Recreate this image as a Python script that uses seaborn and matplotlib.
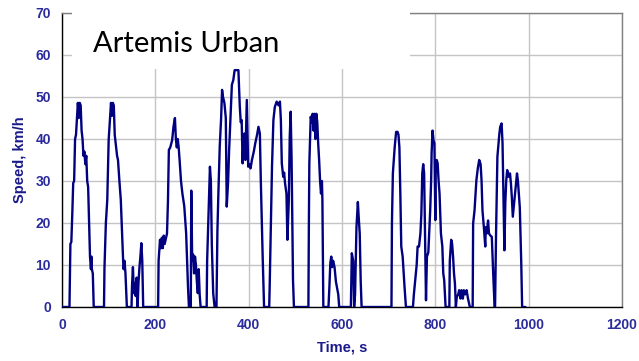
import matplotlib
matplotlib.use("Agg")
import matplotlib.pyplot as plt
import seaborn as sns
import pandas as pd
from matplotlib.patches import Rectangle

# Artemis Urban cycle (time in s, speed in km/h)
time_s = [0, 16, 18, 20, 22, 24, 26, 28, 30, 32, 34, 36, 38, 40, 42, 44, 46, 48, 50, 52, 54, 56, 58, 60, 62, 63, 64, 66, 68,
          90, 91, 94, 97, 100, 103, 105, 107, 109, 111, 113, 116, 118, 120, 123, 126, 129, 131, 132, 134, 136, 139,
          149, 150, 152, 154, 156, 158, 160, 162, 164, 166, 168, 170, 172, 174,
          206, 207, 210, 212, 214, 216, 218, 220, 222, 225, 227, 229, 232, 236, 239, 242, 244, 246, 248, 250, 252, 255,
          258, 262, 266, 268, 270, 272, 276, 277, 279, 281, 283, 285, 287, 289, 291, 293, 295, 297, 310, 311, 314, 317,
          319, 321, 324, 327,
          331, 333, 335, 338, 341, 343, 345, 348, 351, 353, 356, 358, 361, 364, 367, 370, 378, 381, 383, 385, 387, 389,
          391, 393, 396, 399, 402, 404, 407, 411, 414, 418, 421, 424, 426, 430, 433,
          444, 445, 447, 450, 453, 456, 460, 464, 467, 469, 471, 474, 476, 478, 481, 483, 486, 488, 490, 492, 495, 497,
          528, 529, 530, 533, 535, 537, 539, 541, 543, 545, 547, 549, 551, 553, 555, 557, 558, 560,
          571, 573, 575, 577, 579, 581, 584, 587, 589, 592, 594,
          619, 621, 624, 626, 628, 631, 634, 636, 638, 640, 642,
          706, 707, 709, 713, 716, 719, 721, 723, 725, 727, 730, 734, 737,
          752, 754, 757, 760, 762, 765, 768, 770, 772, 774, 776, 777, 778, 780, 782, 785, 787, 789, 791, 792, 794, 796,
          798, 800, 801, 803, 805, 807, 809, 812, 815, 817, 819, 822,
          830, 831, 834, 836, 838, 840, 842, 844, 846, 849, 851, 854, 856, 859, 861, 864, 867, 870, 874,
          880, 881, 884, 888, 891, 894, 897, 899, 901, 904, 907, 908, 910, 913, 915, 918, 921, 924, 927,
          928, 930, 933, 937, 939, 942, 944, 946, 948, 950, 952, 954, 957, 960, 962, 964, 966, 969, 972, 975, 977, 979,
          981, 984, 986, 993]
speed_kmh = [0, 0, 15, 15.5, 22, 29.5, 30, 40, 41, 45, 48.6, 45, 48.6, 48, 42, 40, 36, 37, 34, 36, 30, 28.6, 20, 12, 9, 12, 9, 8, 0,
             0, 9.3, 20, 25.5, 39.8, 45, 48.6, 45.5, 48.6, 48, 41, 38, 36, 35, 30, 25.5, 16.5, 11, 9, 11, 8, 0,
             0, 5, 9.5, 3.3, 5.7, 2.6, 7, 0, 6, 9.5, 12, 15.2, 11, 0,
             0, 11, 16, 14, 16.5, 14, 17, 15, 16, 17.5, 25, 37.4, 38, 39.7, 43, 45, 40, 38, 40, 38, 35, 30,
             27, 24, 17.6, 11, 4.8, 0, 0, 27.7, 11, 12.5, 8, 12, 10, 6, 3.3, 9, 3, 0, 0, 11, 22, 33.4,
             30, 15, 3.3, 0,
             0, 18, 26.6, 38.2, 45, 51.7, 50, 48.6, 45, 23.9, 30, 37, 45, 52.9, 54, 56.4, 56.4, 47.7, 44, 44.5, 34.2, 40,
             41.3, 35, 49.3, 33.4, 34, 33, 35, 37, 38.9, 41, 42.9, 41.3, 30.2, 12, 0,
             0, 4.8, 15.9, 33.4, 44.5, 47.6, 48.9, 48, 48.9, 44.5, 34.2, 31, 32, 29.4, 27, 16, 25.3, 40.5, 46.5, 35, 6.4, 0,
             0, 19.8, 34.2, 45.3, 44, 46, 42, 46, 40, 46, 44, 38.9, 35, 30, 27, 30, 25.5, 0,
             0, 4.8, 10.5, 12, 9.5, 11, 9.5, 6, 4.8, 3, 0,
             0, 12.8, 11, 0, 3, 19, 25, 21, 17.5, 6.4, 0,
             0, 19.9, 31.8, 38.2, 41.7, 41.7, 41, 38, 27, 14.4, 12, 4.8, 0,
             0, 3, 6.4, 10, 14.4, 14.4, 17.5, 22, 31.8, 34, 31.8, 23.9, 14.4, 1.6, 12, 13, 18, 23, 30, 36.6, 42, 39.7,
             39, 20.7, 34.2, 35, 34.2, 30, 27, 17.5, 14.4, 8, 6.4, 0,
             0, 11, 16, 15, 12, 8, 5.6, 0, 2.4, 3, 4, 2, 4, 2, 4, 3, 4, 2, 0,
             0, 19.9, 23, 30.2, 33, 35, 34, 30.2, 23, 19, 14.4, 19, 17.5, 20.6, 17.5, 17, 16.7, 8, 0,
             0, 16.7, 35.8, 41, 42.9, 43.7, 39, 26.3, 13.5, 25, 30.2, 32.6, 31, 31.8, 29.4, 26, 21.5, 25, 28.6, 31.8, 30, 27,
             23.7, 11, 0, 0]

x_ticks = [0, 200, 400, 600, 800, 1000, 1200]
y_ticks = [0, 10, 20, 30, 40, 50, 60, 70]
title_text = "Artemis Urban"
x_label = "Time, s"
y_label = "Speed, km/h"

df = pd.DataFrame({"t": time_s, "v": speed_kmh})

sns.set_theme(style="white")
plt.rcParams["font.family"] = ["Liberation Sans", "DejaVu Sans"]

fig = plt.figure(figsize=(6.39, 3.61), dpi=100)
ax = fig.add_axes([62 / 639, 1 - 307 / 361, 560 / 639, 294 / 361])

sns.lineplot(data=df, x="t", y="v", ax=ax, color="#000080", linewidth=1.7, sort=False, zorder=3)

ax.set_xlim(0, 1200)
ax.set_ylim(0, 70)
ax.set_xticks(x_ticks)
ax.set_yticks(y_ticks)
ax.grid(True, color="#c4c4c4", linewidth=1.0, zorder=0)
ax.set_axisbelow(True)

tick_color = "#2b2b9c"
ax.tick_params(axis="both", which="major", direction="out", length=4, width=1,
               color="#000000", labelsize=10, labelcolor=tick_color, pad=4)
for lab in ax.get_xticklabels() + ax.get_yticklabels():
    lab.set_fontweight("bold")

for side in ("left", "bottom"):
    ax.spines[side].set_color("#000000")
    ax.spines[side].set_linewidth(1.0)
for side in ("top", "right"):
    ax.spines[side].set_color("#808080")
    ax.spines[side].set_linewidth(1.0)
    ax.spines[side].set_visible(True)

ax.set_xlabel(x_label, fontsize=10.5, fontweight="bold", color="#1a1a8a", labelpad=6)
ax.set_ylabel(y_label, fontsize=10.5, fontweight="bold", color="#1a1a8a", labelpad=6)

# white title box overlaying the top-left of the plot
box = Rectangle((72 / 639, 1 - 69 / 361), (410 - 72) / 639, 69 / 361,
                transform=fig.transFigure, facecolor="white", edgecolor="none", zorder=5)
fig.add_artist(box)
fig.text(93 / 639, 1 - 52 / 361, title_text, fontsize=21, color="#000000",
         family=["Lato", "DejaVu Sans"], ha="left", va="baseline", zorder=6)

fig.savefig("out.png", dpi=100, facecolor="white")
